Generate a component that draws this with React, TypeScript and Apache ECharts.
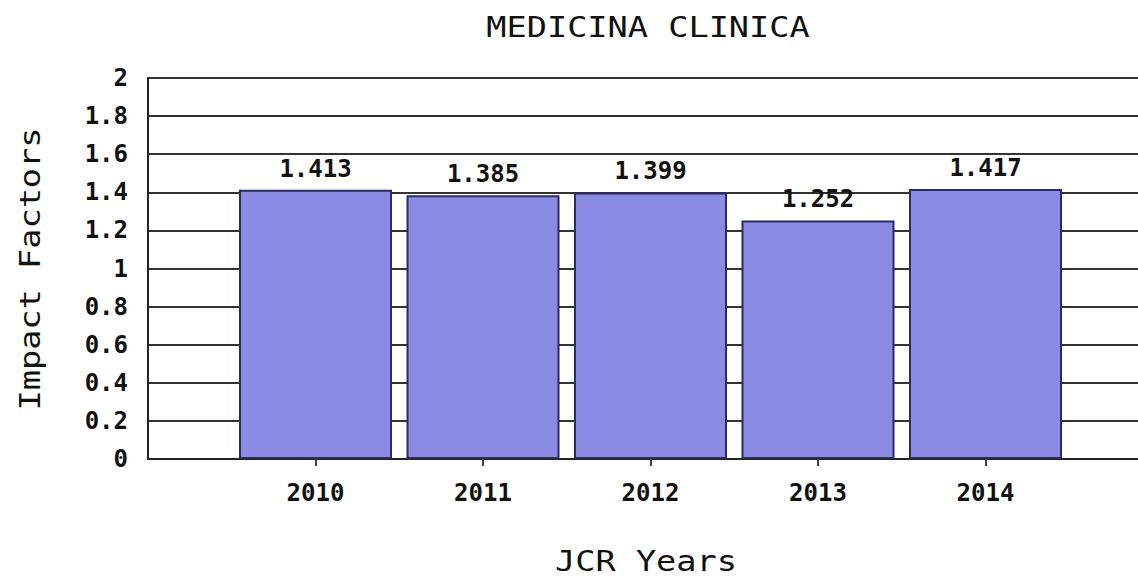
import React, { useEffect, useRef } from "react";
import * as echarts from "echarts";

const title = "MEDICINA CLINICA";
const years = ["2010", "2011", "2012", "2013", "2014"];
const impactFactors = [1.413, 1.385, 1.399, 1.252, 1.417];
const xAxisName = "JCR Years";
const yAxisName = "Impact Factors";

const MONO = "'DejaVu Sans Mono', 'Liberation Mono', monospace";

export default function App() {
  const ref = useRef<HTMLDivElement>(null);
  useEffect(() => {
    if (!ref.current) return;
    const chart = echarts.init(ref.current, null, { renderer: "svg" });
    const categories = ["", ...years, ""];
    const values: any[] = ["-", ...impactFactors, "-"];
    const nameStyle = { fontFamily: MONO, fontSize: 28, fontWeight: "normal", fill: "#111" };
    chart.setOption({
      animation: false,
      backgroundColor: "#ffffff",
      graphic: [
        {
          type: "text",
          x: 648,
          y: 27,
          scaleX: 1.2,
          style: { ...nameStyle, text: title, textAlign: "center", textVerticalAlign: "middle" },
        },
        {
          type: "text",
          x: 646,
          y: 561,
          scaleX: 1.2,
          style: { ...nameStyle, text: xAxisName, textAlign: "center", textVerticalAlign: "middle" },
        },
        {
          type: "text",
          x: 30,
          y: 269,
          rotation: Math.PI / 2,
          scaleX: 1.2,
          style: { ...nameStyle, text: yAxisName, textAlign: "center", textVerticalAlign: "middle" },
        },
      ],
      grid: { left: 148, top: 78, width: 1005, height: 381, outerBoundsMode: "none", containLabel: false },
      xAxis: {
        type: "category",
        data: categories,
        boundaryGap: false,
        axisLine: { lineStyle: { color: "#222", width: 2 } },
        axisTick: {
          show: true,
          length: 7,
          interval: (i: number) => i > 0 && i < categories.length - 1,
          lineStyle: { color: "#444", width: 2 },
        },
        axisLabel: {
          fontFamily: MONO,
          fontWeight: "bold",
          fontSize: 24,
          color: "#111",
          margin: 22,
          interval: 0,
        },
        splitLine: { show: false },
      },
      yAxis: {
        type: "value",
        min: 0,
        max: 2,
        interval: 0.2,
        axisLine: { show: true, lineStyle: { color: "#222", width: 2 } },
        axisTick: { show: false },
        axisLabel: {
          fontFamily: MONO,
          fontWeight: "bold",
          fontSize: 24,
          color: "#111",
          margin: 20,
          formatter: (v: number) => String(Math.round(v * 10) / 10),
        },
        splitLine: { show: true, lineStyle: { color: "#333", width: 2 } },
      },
      series: [
        {
          type: "bar",
          data: values,
          barWidth: 153,
          itemStyle: { color: "#8b8be6", borderColor: "#2b2b5e", borderWidth: 2 },
          label: {
            show: true,
            position: "top",
            distance: 9,
            fontFamily: MONO,
            fontWeight: "bold",
            fontSize: 24,
            color: "#111",
            formatter: (p: any) => Number(p.value).toFixed(3),
          },
        },
      ],
    });
    return () => chart.dispose();
  }, []);
  return (
    <div
      ref={ref}
      style={{ position: "fixed", left: 0, top: 0, width: 1138, height: 579 }}
    />
  );
}
